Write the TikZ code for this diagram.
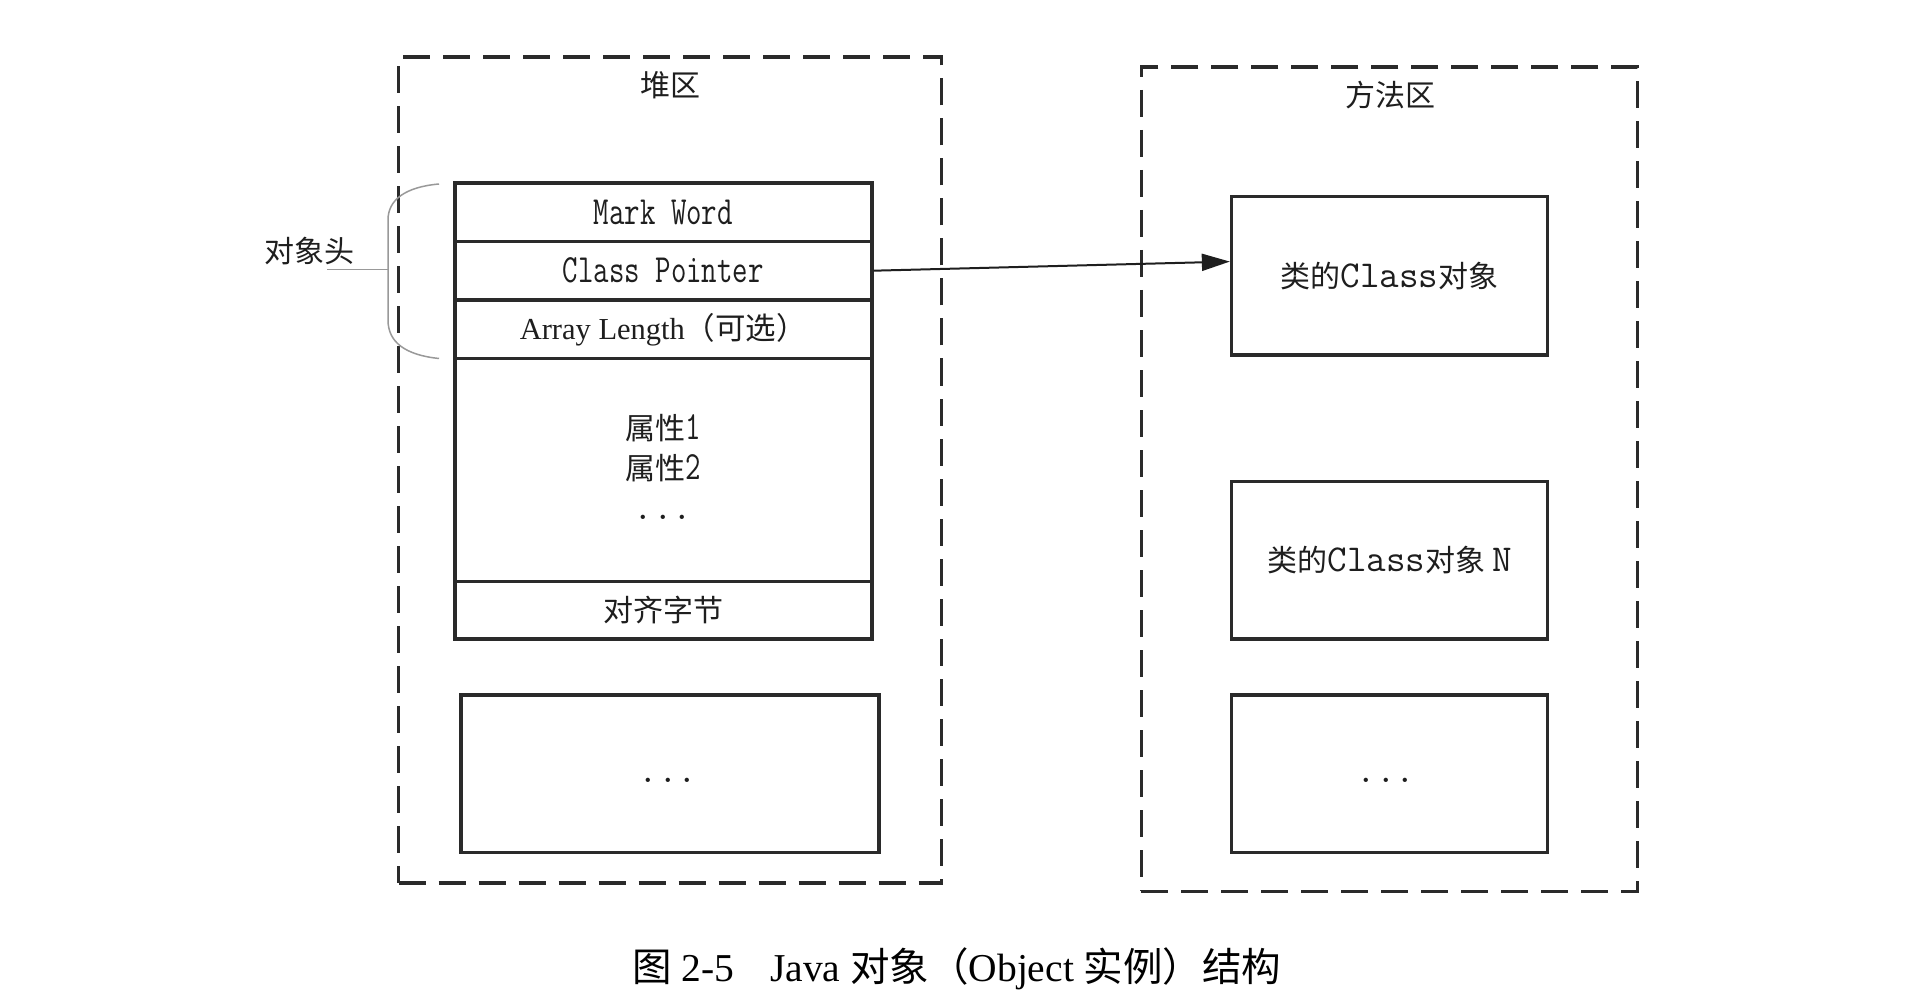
\documentclass[tikz,border=0pt]{standalone}
\usepackage{fontspec}
\setmainfont{Liberation Serif}
\newfontfamily\cjk{Noto Sans CJK SC}
\newfontfamily\monof[FakeStretch=0.75]{Latin Modern Mono}
\newfontfamily\monow{Latin Modern Mono}
\usetikzlibrary{arrows.meta,calc}
\definecolor{ink}{HTML}{2A2A2A}
\definecolor{txt}{HTML}{1E1E1E}
\definecolor{brc}{HTML}{999999}
\tikzset{
  box/.style={draw=ink, line width=3.5pt, inner sep=0pt, align=center, text=txt},
  region/.style={draw=ink, line width=3.5pt, dash pattern=on 27pt off 13pt, inner sep=0pt},
  lbl/.style={inner sep=0pt, text=txt, font=\fontsize{30}{36}\selectfont\cjk},
  cj/.style={font=\fontsize{30}{36}\selectfont\cjk},
  bracecurve/.style={draw=brc, line width=1.5pt},
  ptr/.style={draw=txt, line width=2pt, -{Triangle[length=28pt,width=17pt]}},
}
\newcommand{\mf}[1]{{\fontsize{40}{40}\selectfont\monof #1}}
\newcommand{\mw}[1]{{\fontsize{38}{38}\selectfont\monow #1}}
\begin{document}
\begin{tikzpicture}[x=1pt,y=-1pt]
\fill[white] (0,0) rectangle (1912,1008);
\useasboundingbox (0,0) rectangle (1912,1008);

% regions
\node[region, minimum width=542.7pt, minimum height=825.6pt] (heap) at (670,470) {};
\node[region, minimum width=496.3pt, minimum height=824.4pt] (method) at (1389.5,479.2) {};
\node[lbl] (heaplbl) at (670.6,85) {堆区};
\node[lbl] (methodlbl) at (1390,95) {方法区};

% object structure
\node[box, minimum width=417.1pt, minimum height=58.5pt] (mw) at (663.35,212.15) {\mf{Mark Word}};
\node[box, minimum width=417.1pt, minimum height=58.6pt] (cp) at (663.35,270.7) {\mf{Class Pointer}};
\node[box, minimum width=417.1pt, minimum height=58.5pt] (al) at (663.35,329.25) {\fontsize{30.5}{36}\selectfont Array Length{\cjk （可选）}};
\node[box, minimum width=417.1pt, minimum height=223.2pt] (attrs) at (663.35,470.1) {};
\node[lbl, align=center, font=\fontsize{30}{40}\selectfont\cjk] (attrtxt) at (663,467) {属性\mf{1}\\属性\mf{2}\\\mw{...}};
\node[box, minimum width=417.1pt, minimum height=57.3pt, cj] (pad) at (663.35,610.35) {对齐字节};

\node[box, minimum width=418.3pt, minimum height=157.4pt] (heapmore) at (670,773.7) {};
\node[inner sep=0pt, text=txt] (heapdots) at (668,780) {\mw{...}};

% method area
\node[box, minimum width=315.8pt, minimum height=158.6pt, cj] (cls) at (1389.5,275.6) {类的\mw{Class}对象};
\node[box, minimum width=315.8pt, minimum height=157.3pt, cj] (clsn) at (1389.5,560.3) {类的\mw{Class}对象 \mw{N}};
\node[box, minimum width=315.8pt, minimum height=157.4pt] (clsmore) at (1389.5,773.7) {};
\node[inner sep=0pt, text=txt] (clsdots) at (1386,780) {\mw{...}};

% pointer
\draw[ptr] (cp.east) -- ($(cls.west)+(0,-14)$);

% header brace
\coordinate (bt) at (439,184);
\coordinate (bb) at (439,358.5);
\coordinate (bm) at (388,269.5);
\coordinate (lead) at (327,269.5);
\draw[bracecurve] (bt) .. controls (405,187) and (388,200) .. (388,220) -- (388,320) .. controls (388,342) and (405,355) .. (bb);
\draw[bracecurve] (bm) -- (lead);
\node[lbl] (hdr) at (309,251) {对象头};

% caption
\node[inner sep=0pt, text=black, font=\fontsize{39.5}{44}\selectfont] (caption) at (957,969)
  {{\cjk 图} 2-5\hspace{0.9em}Java {\cjk 对象（}Object {\cjk 实例）结构}};
\end{tikzpicture}
\end{document}
